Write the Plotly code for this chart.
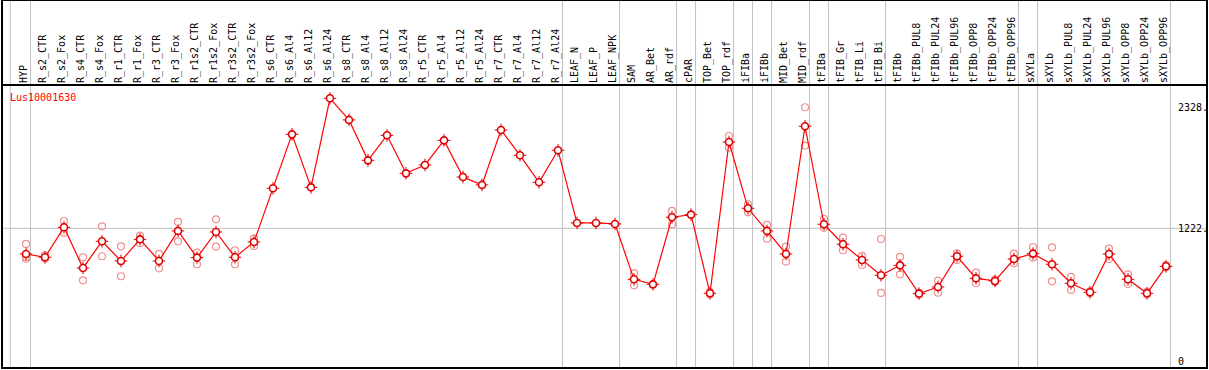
import plotly.graph_objects as go

categories = ["HYP", "R_s2_CTR", "R_s2_Fox", "R_s4_CTR", "R_s4_Fox", "R_r1_CTR", "R_r1_Fox",
              "R_r3_CTR", "R_r3_Fox", "R_r1s2_CTR", "R_r1s2_Fox", "R_r3s2_CTR", "R_r3s2_Fox",
              "R_s6_CTR", "R_s6_Al4", "R_s6_Al12", "R_s6_Al24", "R_s8_CTR", "R_s8_Al4", "R_s8_Al12",
              "R_s8_Al24", "R_r5_CTR", "R_r5_Al4", "R_r5_Al12", "R_r5_Al24", "R_r7_CTR", "R_r7_Al4",
              "R_r7_Al12", "R_r7_Al24", "LEAF_N", "LEAF_P", "LEAF_NPK", "SAM", "AR_Bet", "AR_rdf",
              "cPAR", "TOP_Bet", "TOP_rdf", "iFIBa", "iFIBb", "MID_Bet", "MID_rdf", "tFIBa",
              "tFIB_Gr", "tFIB_Li", "tFIB_Bi", "tFIBb", "tFIBb_PUL8", "tFIBb_PUL24", "tFIBb_PUL96",
              "tFIBb_OPP8", "tFIBb_OPP24", "tFIBb_OPP96", "sXYLa", "sXYLb", "sXYLb_PUL8",
              "sXYLb_PUL24", "sXYLb_PUL96", "sXYLb_OPP8", "sXYLb_OPP24", "sXYLb_OPP96"]

mean_values = [987, 957, 1231, 859, 1103, 923, 1121, 923, 1198, 954, 1188, 957, 1097,
               1588, 2082, 1597, 2412, 2214, 1844, 2073, 1725, 1802, 2027, 1692, 1619,
               2122, 1890, 1643, 1936, 1271, 1271, 1262, 755, 709, 1323, 1347, 627, 2012,
               1405, 1198, 987, 2156, 1259, 1076, 932, 792, 883, 624, 685, 966, 764, 740,
               941, 990, 893, 719, 636, 987, 755, 627, 874]

rep_a = [1079, 975, 1289, 957, 1240, 1057, 1155, 987, 1280, 999, 1304, 1021, 1130,
         None, None, None, None, None, None, None, None, None, None, None, None,
         None, None, None, None, None, None, None, 810, None, 1381, None, 640, 2067,
         1442, 1253, 1054, 2330, 1307, 1137, 969, 1124, 960, 632, 743, 993, 816, 752,
         990, 1051, 1048, 777, 645, 1036, 801, 640, 885]

rep_b = [960, 945, 1182, 746, 966, 783, 1085, 856, 1103, 893, 1054, 893, 1060,
         None, None, None, None, None, None, None, None, None, None, None, None,
         None, None, None, None, None, None, None, 700, None, 1259, None, 615, 1960,
         1368, 1127, 917, 1979, 1228, 1021, 886, 630, 801, 616, 633, 932, 719, 730,
         902, 954, 737, 658, 628, 941, 712, 615, 865]

rep_c = [943] + [None] * 60

group_bounds = [-1.07, 0, 28, 31, 34, 35, 37, 38, 39, 41, 42, 45, 52, 53, 60]
ref_values = [2328, 1222, 0]
ref_labels = ["2328.", "1222.", "0"]
gene_name = "Lus10001630"

xs = list(range(len(categories)))
fig = go.Figure()

rep_color = "#ef8f8f"
for reps in (rep_a, rep_b, rep_c):
    fig.add_trace(go.Scatter(
        x=xs, y=reps, mode="markers",
        marker=dict(symbol="circle-open", size=7, color=rep_color, line=dict(width=1.2, color=rep_color)),
        showlegend=False, hoverinfo="skip", cliponaxis=False))

fig.add_trace(go.Scatter(
    x=xs, y=mean_values, mode="lines",
    line=dict(color="#ff0000", width=1.2), showlegend=False, hoverinfo="skip"))
fig.add_trace(go.Scatter(
    x=xs, y=mean_values, mode="markers",
    marker=dict(symbol="cross-thin-open", size=9, color="#e00000", line=dict(width=1, color="#e00000")),
    showlegend=False, hoverinfo="skip"))
fig.add_trace(go.Scatter(
    x=xs, y=mean_values, mode="markers",
    marker=dict(symbol="circle", size=7, color="white", line=dict(width=1.6, color="#e00000")),
    showlegend=False))

top_paper = 1 + 85 / 283
shapes = []
for b in group_bounds:
    shapes.append(dict(type="line", xref="x", yref="paper", x0=b + 0.24, x1=b + 0.24,
                       y0=0, y1=top_paper, line=dict(color="#c0c0c0", width=1), layer="below"))
shapes.append(dict(type="line", xref="paper", yref="y", x0=0, x1=1, y0=ref_values[1], y1=ref_values[1],
                   line=dict(color="#c0c0c0", width=1), layer="below"))
shapes.append(dict(type="rect", xref="paper", yref="paper", x0=0, x1=1, y0=0, y1=top_paper,
                   line=dict(color="black", width=2), fillcolor="rgba(0,0,0,0)"))
shapes.append(dict(type="line", xref="paper", yref="paper", x0=0, x1=1, y0=1, y1=1,
                   line=dict(color="black", width=2)))

annotations = []
for v, t in zip(ref_values, ref_labels):
    annotations.append(dict(x=(1176 - 26) / 19, y=v, xref="x", yref="y", text=t, showarrow=False,
                            xanchor="left", yanchor="middle",
                            font=dict(family="DejaVu Sans Mono", size=10, color="black")))
annotations.append(dict(x=0.005, y=2421, xref="paper", yref="y", text=gene_name, showarrow=False,
                        xanchor="left", yanchor="middle",
                        font=dict(family="DejaVu Sans Mono", size=10, color="#ff0000")))

fig.update_layout(
    width=1209, height=370,
    margin=dict(l=2, r=2, t=85, b=2, autoexpand=False),
    paper_bgcolor="white", plot_bgcolor="white",
    shapes=shapes, annotations=annotations,
    xaxis=dict(range=[(2 - 26) / 19, (1207 - 26) / 19], side="top", tickmode="array",
               tickvals=xs, ticktext=categories, tickangle=-90, showgrid=False, zeroline=False,
               ticks="", tickfont=dict(family="DejaVu Sans Mono", size=10, color="black"),
               ticklabelshift=-2, ticklabelstandoff=1, showline=False, automargin=False),
    yaxis=dict(range=[(361.8 - 368) / 0.10925, (361.8 - 85) / 0.10925], showgrid=False,
               zeroline=False, showticklabels=False, ticks="", showline=False, automargin=False),
)

fig.write_html("out.html", config={"displayModeBar": False},
               post_script="document.body.style.margin='0';document.body.style.overflow='hidden';")
